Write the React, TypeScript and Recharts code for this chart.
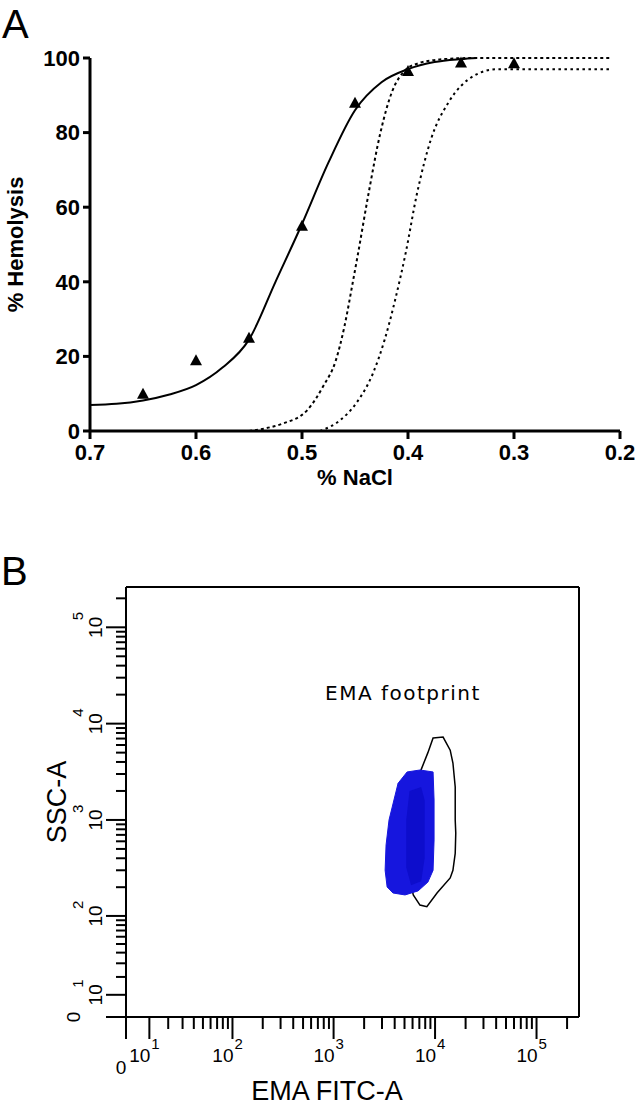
import { ComposedChart, Line, Scatter, XAxis, YAxis, ReferenceLine } from 'recharts'

// ---- panel A: osmotic fragility ----
const naclTicks = [0.7, 0.6, 0.5, 0.4, 0.3, 0.2]
const hemolysisTicks = [0, 20, 40, 60, 80, 100]

const pointNacl = [0.65, 0.6, 0.55, 0.5, 0.45, 0.4, 0.35, 0.3]
const pointHemolysis = [10, 19, 25, 55, 88, 96.5, 98.8, 98.6]

const fitNacl = [0.7, 0.675, 0.65, 0.625, 0.6, 0.575, 0.55, 0.525, 0.5, 0.475, 0.45, 0.425, 0.4, 0.375, 0.35, 0.335]
const fitHemolysis = [7, 7.3, 8.2, 9.8, 12.3, 17, 24.5, 40, 55.5, 72, 86, 93.5, 97, 98.9, 99.7, 100]

const normLowNacl = [0.55, 0.53, 0.518, 0.495, 0.48, 0.468, 0.46, 0.452, 0.4475, 0.437, 0.426, 0.415, 0.403, 0.39, 0.37, 0.34, 0.21]
const normLowHemolysis = [0, 1, 2, 5.6, 12, 19, 28, 40, 47, 64, 80, 91, 96.6, 98.6, 99.6, 100, 100]

const normHighNacl = [0.483, 0.464, 0.449, 0.433, 0.422, 0.412, 0.402, 0.392, 0.378, 0.362, 0.338, 0.316, 0.21]
const normHighHemolysis = [0, 2.9, 7.4, 15.5, 24.5, 35.3, 48, 63, 78.5, 88, 95.2, 97, 97]

// ---- panel B: EMA flow cytometry ----
const flowMajorValues = [0, 10, 100, 1000, 10000, 100000]
const flowMajorExponents = ['', '1', '2', '3', '4', '5']
const flowMinorValues = [
  20, 30, 40, 50, 60, 70, 80, 90,
  200, 300, 400, 500, 600, 700, 800, 900,
  2000, 3000, 4000, 5000, 6000, 7000, 8000, 9000,
  20000, 30000, 40000, 50000, 60000, 70000, 80000, 90000,
  200000
]
const flowMax = 262144

const gateFitc = [9560, 12000, 14100, 15000, 15800, 15800, 16000, 15800, 15000, 14100, 10500, 8300, 7100, 6100, 5400, 5700, 6400, 7100, 8500]
const gateSsc = [7100, 7250, 5300, 3900, 2200, 1000, 730, 450, 300, 250, 175, 125, 130, 166, 300, 1000, 2300, 3100, 5000]

const stainFitc = [5300, 7100, 9560, 9780, 9780, 9560, 8500, 6800, 5060, 3850, 3370, 3220, 3290, 3520, 4320]
const stainSsc = [3150, 3300, 3150, 1610, 620, 300, 226, 183, 166, 174, 201, 300, 550, 1000, 2400]

const coreFitc = [5600, 7300, 7900, 7900, 7300, 5800, 5200, 5200]
const coreSsc = [2000, 2200, 1600, 400, 230, 210, 320, 1000]

const zip = (xs: number[], ys: number[]) => xs.map((x, i) => ({ x, y: ys[i] }))

// biexponential-like display transform used by the cytometer axes
const flowScale = (v: number) => Math.asinh(v / 18)
const zipFlow = (xs: number[], ys: number[]) => xs.map((x, i) => ({ x: flowScale(x), y: flowScale(ys[i]) }))

const flowTicks = [
  ...flowMajorValues.map((v, i) => ({ pos: flowScale(v), major: true, exp: flowMajorExponents[i] })),
  ...flowMinorValues.map((v) => ({ pos: flowScale(v), major: false, exp: '' }))
]
const flowTickPositions = flowTicks.map((t) => t.pos)
const findTick = (value: number) => flowTicks.find((t) => Math.abs(t.pos - value) < 1e-9)

const boldFont = "'Liberation Sans', Arial, sans-serif"
const flowFont = "'Liberation Sans', Arial, sans-serif"

const Triangle = (props: any) => {
  const { cx, cy } = props
  return <path d={`M${cx},${cy - 6} L${cx + 6},${cy + 5} L${cx - 6},${cy + 5} Z`} fill='#000' />
}

const NoDot = () => <g />

const FlowXTick = (props: any) => {
  const { x, y, payload } = props
  const t = findTick(payload.value)
  if (!t) return null
  const len = t.major ? 22 : 12
  return (
    <g>
      <line x1={x} y1={y} x2={x} y2={y + len} stroke='#000' strokeWidth={2} />
      {t.major && t.exp === '' && (
        <text x={x - 5} y={y + 57} textAnchor='middle' fontSize={19} fontFamily={flowFont} fill='#000'>0</text>
      )}
      {t.exp !== '' && (
        <>
          <text x={x + 1} y={y + 45} textAnchor='end' fontSize={19} fontFamily={flowFont} fill='#000'>10</text>
          <text x={x + 2} y={y + 32} textAnchor='start' fontSize={15} fontFamily={flowFont} fill='#000'>{t.exp}</text>
        </>
      )}
    </g>
  )
}

const FlowYTick = (props: any) => {
  const { x, y, payload } = props
  const t = findTick(payload.value)
  if (!t) return null
  const len = t.major ? 20 : 10
  return (
    <g>
      <line x1={x - len} y1={y} x2={x} y2={y} stroke='#000' strokeWidth={2} />
      {t.major && t.exp === '' && (
        <text transform={`translate(${x - 46},${y}) rotate(-90)`} textAnchor='middle' fontSize={19} fontFamily={flowFont} fill='#000'>0</text>
      )}
      {t.exp !== '' && (
        <g transform={`translate(${x - 24},${y}) rotate(-90)`}>
          <text x={0} y={0} textAnchor='middle' fontSize={19} fontFamily={flowFont} fill='#000'>10</text>
          <text x={7} y={-19} textAnchor='start' fontSize={15} fontFamily={flowFont} fill='#000'>{t.exp}</text>
        </g>
      )}
    </g>
  )
}

const FragilityChart = () => {
  const fit = zip(fitNacl, fitHemolysis)
  const low = zip(normLowNacl, normLowHemolysis)
  const high = zip(normHighNacl, normHighHemolysis)
  const points = zip(pointNacl, pointHemolysis)
  const axisStyle = { stroke: '#000', strokeWidth: 3 }
  const tickStyle = { fill: '#000', fontSize: 22, fontWeight: 'bold', fontFamily: boldFont }
  return (
    <ComposedChart width={637} height={500} margin={{ top: 58, right: 17, bottom: 9, left: 0 }}>
      <XAxis
        dataKey='x'
        type='number'
        domain={[0.2, 0.7]}
        reversed
        ticks={naclTicks}
        interval={0}
        tickFormatter={(v) => Number(v).toFixed(1)}
        tick={tickStyle}
        tickSize={8}
        tickMargin={5}
        axisLine={axisStyle}
        tickLine={axisStyle}
        height={60}
        label={{
          content: (p: any) => (
            <text x={p.viewBox.x + p.viewBox.width / 2} y={p.viewBox.y + 54} textAnchor='middle' fontSize={22} fontWeight='bold' fontFamily={boldFont} fill='#000'>
              % NaCl
            </text>
          )
        }}
      />
      <YAxis
        dataKey='y'
        type='number'
        domain={[0, 100]}
        ticks={hemolysisTicks}
        interval={0}
        tick={tickStyle}
        tickSize={7}
        tickMargin={3}
        axisLine={axisStyle}
        tickLine={axisStyle}
        width={90}
        label={{
          content: (p: any) => {
            const cx = 23
            const cy = p.viewBox.y + p.viewBox.height / 2
            return (
              <text transform={`translate(${cx},${cy}) rotate(-90)`} textAnchor='middle' fontSize={22} fontWeight='bold' fontFamily={boldFont} fill='#000'>
                % Hemolysis
              </text>
            )
          }
        }}
      />
      <Line data={low} dataKey='y' type='monotone' stroke='#000' strokeWidth={2} strokeDasharray='3 3' dot={false} isAnimationActive={false} />
      <Line data={high} dataKey='y' type='monotone' stroke='#000' strokeWidth={2} strokeDasharray='2.5 3.5' dot={false} isAnimationActive={false} />
      <Line data={fit} dataKey='y' type='monotone' stroke='#000' strokeWidth={2} dot={false} isAnimationActive={false} />
      <Scatter data={points} dataKey='y' shape={Triangle} isAnimationActive={false} />
    </ComposedChart>
  )
}

const FlowChart = () => {
  const gate = zipFlow(gateFitc, gateSsc)
  const stain = zipFlow(stainFitc, stainSsc)
  const core = zipFlow(coreFitc, coreSsc)
  const top = flowScale(flowMax)
  const axisStyle = { stroke: '#000', strokeWidth: 2 }
  return (
    <ComposedChart width={637} height={569} margin={{ top: 47, right: 58, bottom: 12, left: 0 }}>
      <XAxis
        dataKey='x'
        type='number'
        domain={[0, top]}
        allowDataOverflow
        ticks={flowTickPositions}
        interval={0}
        tick={(p: any) => <FlowXTick {...p} />}
        tickSize={0}
        tickMargin={0}
        tickLine={false}
        axisLine={axisStyle}
        height={80}
        label={{
          content: (p: any) => (
            <text x={p.viewBox.x + 201} y={p.viewBox.y + 83} textAnchor='middle' fontSize={27} fontFamily={flowFont} fill='#000'>
              EMA FITC-A
            </text>
          )
        }}
      />
      <YAxis
        dataKey='y'
        type='number'
        domain={[0, top]}
        allowDataOverflow
        ticks={flowTickPositions}
        interval={0}
        tick={(p: any) => <FlowYTick {...p} />}
        tickSize={0}
        tickMargin={0}
        tickLine={false}
        axisLine={axisStyle}
        width={126}
        label={{
          content: (p: any) => (
            <text transform={`translate(66,${p.viewBox.y + p.viewBox.height / 2}) rotate(-90)`} textAnchor='middle' fontSize={27} fontFamily={flowFont} fill='#000'>
              SSC-A
            </text>
          )
        }}
      />
      <ReferenceLine y={top} stroke='#000' strokeWidth={2} />
      <ReferenceLine x={top} stroke='#000' strokeWidth={2} />
      <Scatter data={gate} shape={NoDot} line={{ fill: 'none', stroke: '#000', strokeWidth: 1.5 }} lineType='joint' lineJointType='linearClosed' isAnimationActive={false} />
      <Scatter data={stain} shape={NoDot} line={{ fill: '#1616de', stroke: '#1616de', strokeWidth: 1 }} lineType='joint' lineJointType='linearClosed' isAnimationActive={false} />
      <Scatter data={core} shape={NoDot} line={{ fill: '#0d0dcc', stroke: 'none' }} lineType='joint' lineJointType='linearClosed' isAnimationActive={false} />
    </ComposedChart>
  )
}

export default function App() {
  return (
    <div style={{ position: 'absolute', left: 0, top: 0, width: 637, height: 1109, background: '#fff' }}>
      <div style={{ position: 'absolute', left: 0, top: 0 }}>
        <FragilityChart />
      </div>
      <div style={{ position: 'absolute', left: 0, top: 540 }}>
        <FlowChart />
      </div>
      <svg width={637} height={1109} style={{ position: 'absolute', left: 0, top: 0, pointerEvents: 'none' }}>
        <text x={2} y={38} fontSize={40} fontFamily={flowFont} fill='#000'>A</text>
        <text x={1} y={585} fontSize={40} fontFamily={flowFont} fill='#000'>B</text>
        <text x={325} y={700} fontSize={20} letterSpacing={1.5} fontFamily="'DejaVu Sans', sans-serif" fill='#000'>EMA footprint</text>
      </svg>
    </div>
  )
}
